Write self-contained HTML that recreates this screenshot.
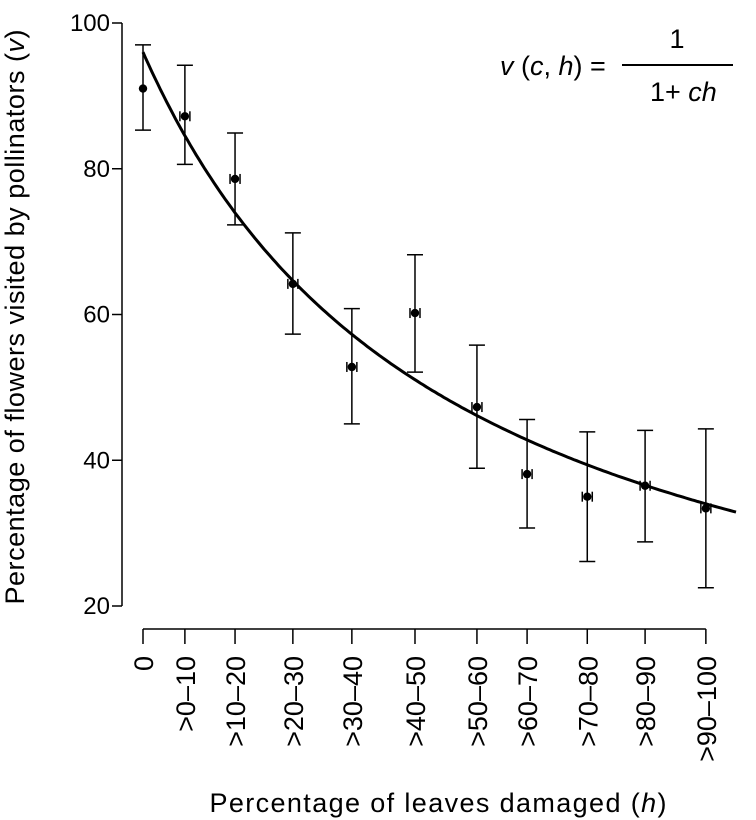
<!DOCTYPE html>
<html><head><meta charset="utf-8"><style>
html,body{margin:0;padding:0;background:#fff}
svg{display:block;font-family:"Liberation Sans",Arial,sans-serif}
</style></head><body>
<svg id="chart" width="756" height="820" viewBox="0 0 756 820"></svg>
<script>
const categories=["0",">0\u201310",">10\u201320",">20\u201330",">30\u201340",">40\u201350",">50\u201360",">60\u201370",">70\u201380",">80\u201390",">90\u2013100"];
const hValues=[0,7.1,15.6,25.4,35.4,46.1,56.6,65.1,75.3,85.1,95.4];
const means=[91,87.2,78.6,64.2,52.8,60.2,47.3,38.1,35,36.5,33.4];
const upper=[97,94.2,84.9,71.2,60.8,68.2,55.8,45.6,43.9,44.1,44.3];
const lower=[85.3,80.6,72.3,57.3,45,52.1,38.9,30.7,26.1,28.8,22.5];
const yTicks=[20,40,60,80,100];
const curveA=96, curveC=0.0191;

const NS="http://www.w3.org/2000/svg";
const svg=document.getElementById('chart');
const xs=h=>143+h*5.9;
const ys=v=>23+(100-v)*(583/80);
function mk(t,a,p){const e=document.createElementNS(NS,t);for(const k in a)e.setAttribute(k,a[k]);(p||svg).appendChild(e);return e;}

let e=mk('line',{x1:122,y1:ys(100),x2:122,y2:ys(20),stroke:'#000','stroke-width':1.5});


e=mk('line',{x1:xs(hValues[0]),y1:629,x2:xs(hValues[hValues.length-1]),y2:629,stroke:'#000','stroke-width':1.5});



yTicks.forEach(v=>{
  const t=mk('line',{x1:112,y1:ys(v),x2:122,y2:ys(v),stroke:'#000','stroke-width':1.5});
  
  
  const l=mk('text',{x:110,y:ys(v)+8,'text-anchor':'end','font-size':24});
  l.textContent=v;
  
  
});
categories.forEach((c,i)=>{
  const x=xs(hValues[i]);
  const t=mk('line',{x1:x,y1:629,x2:x,y2:644,stroke:'#000','stroke-width':1.5});
  
  
  const l=mk('text',{x:0,y:0,'text-anchor':'end','font-size':27,transform:`translate(${x+10},656) rotate(-90)`});
  l.textContent=c;
  
  
});

means.forEach((m,i)=>{
  const x=xs(hValues[i]);
  const g=mk('g',{stroke:'#000','stroke-width':1.5});
  
  
  mk('line',{x1:x,y1:ys(upper[i]),x2:x,y2:ys(lower[i])},g);
  mk('line',{x1:x-8,y1:ys(upper[i]),x2:x+8,y2:ys(upper[i])},g);
  mk('line',{x1:x-8,y1:ys(lower[i]),x2:x+8,y2:ys(lower[i])},g);
  if(i>0){mk('line',{x1:x-5,y1:ys(m)-5,x2:x-5,y2:ys(m)+5},g);mk('line',{x1:x+5,y1:ys(m)-5,x2:x+5,y2:ys(m)+5},g);}
  const p=mk('circle',{cx:x,cy:ys(m),r:4.2,fill:'#000'});
  
  
});

let d='';
for(let h=0;h<=100.5;h+=0.5){d+=(h?'L':'M')+xs(h).toFixed(1)+','+ys(curveA/(1+curveC*h)).toFixed(1);}
e=mk('path',{d:d,fill:'none',stroke:'#000','stroke-width':3});



const f=mk('g',{'font-size':27});


let t=mk('text',{x:500,y:75},f);t.innerHTML='<tspan font-style="italic">v</tspan> (<tspan font-style="italic">c</tspan>, <tspan font-style="italic">h</tspan>) =';
mk('line',{x1:622,y1:65,x2:733,y2:65,stroke:'#000','stroke-width':2},f);
t=mk('text',{x:677,y:48,'text-anchor':'middle'},f);t.textContent='1';
t=mk('text',{x:650,y:101},f);t.innerHTML='1+ <tspan font-style="italic">ch</tspan>';

e=mk('text',{x:0,y:0,'text-anchor':'middle','font-size':27,textLength:575,lengthAdjust:'spacing',transform:'translate(24,317) rotate(-90)'});
e.innerHTML='Percentage of flowers visited by pollinators (<tspan font-style="italic">v</tspan>)';


e=mk('text',{x:438,y:812,'text-anchor':'middle','font-size':27,textLength:457,lengthAdjust:'spacing'});
e.innerHTML='Percentage of leaves damaged (<tspan font-style="italic">h</tspan>)';


</script>
</body></html>
